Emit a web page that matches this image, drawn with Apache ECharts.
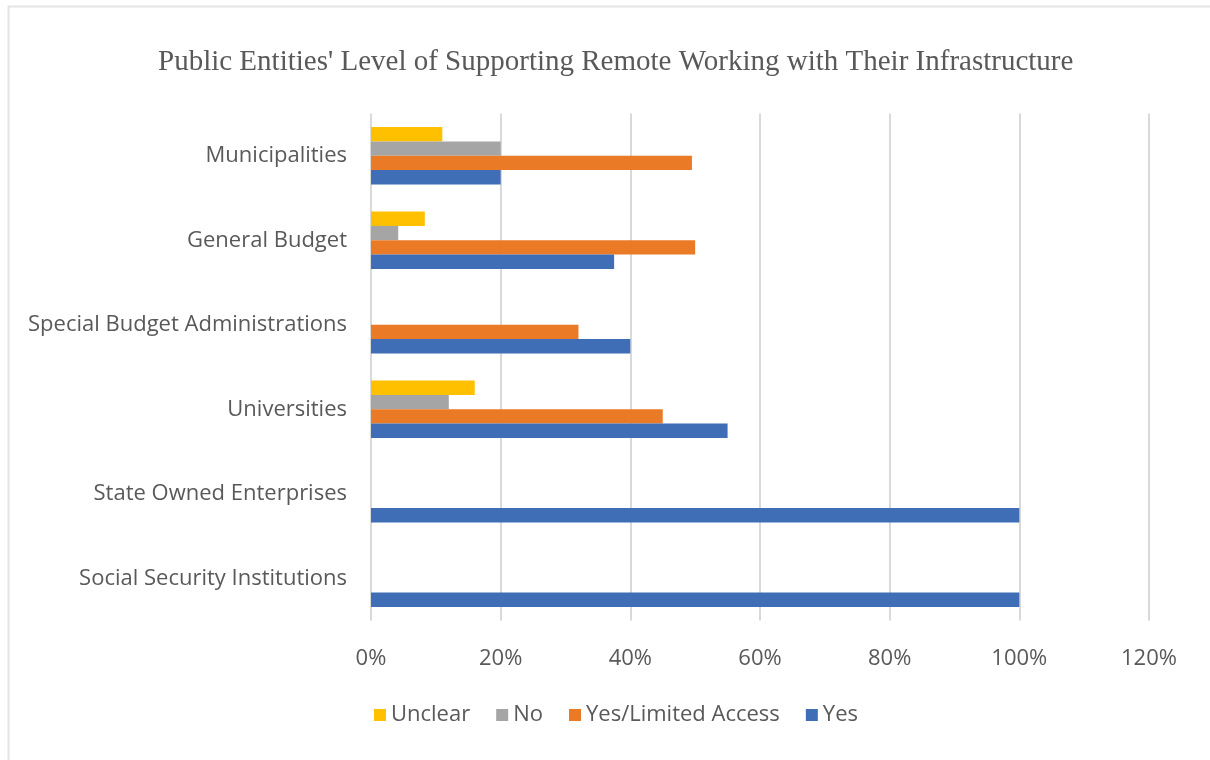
<!DOCTYPE html>
<html>
<head>
<meta charset="utf-8">
<style>
  html, body { margin: 0; padding: 0; background: #ffffff; }
  #chart { width: 1210px; height: 760px; }
</style>
<script src="https://cdn.jsdelivr.net/npm/echarts@6/dist/echarts.min.js"></script>
</head>
<body>
<div id="chart"></div>
<script>
// Entity groups, listed bottom-to-top along the category axis
const categories = [
  'Social Security Institutions',
  'State Owned Enterprises',
  'Universities',
  'Special Budget Administrations',
  'General Budget',
  'Municipalities'
];

// Share of entities per answer (%), same order as categories
const yesValues       = [100, 100, 55, 40, 37.5, 20];
const limitedValues   = [0, 0, 45, 32, 50, 49.5];
const noValues        = [0, 0, 12, 0, 4.2, 20];
const unclearValues   = [0, 0, 16, 0, 8.3, 11];

const xTicks = [0, 20, 40, 60, 80, 100, 120];

const labelFont = '"Open Sans", sans-serif';

const chart = echarts.init(document.getElementById('chart'), null, { renderer: 'canvas' });

function barSeries(name, values, color) {
  return {
    name: name,
    type: 'bar',
    data: values,
    barGap: '0%',
    barCategoryGap: '32%',
    itemStyle: { color: color },
    emphasis: { disabled: true }
  };
}

chart.setOption({
  animation: false,
  backgroundColor: '#ffffff',
  graphic: [{
    type: 'rect',
    shape: { x: 8.5, y: 6.5, width: 1300, height: 900 },
    style: { fill: 'none', stroke: '#e4e4e4', lineWidth: 2 },
    silent: true
  }],
  title: {
    text: "Public Entities' Level of Supporting Remote Working with Their Infrastructure",
    left: 153,
    top: 43,
    textStyle: {
      fontFamily: '"Liberation Serif", "DejaVu Serif", serif',
      fontWeight: 'normal',
      fontSize: 29,
      color: '#595959'
    }
  },
  legend: {
    data: ['Unclear', 'No', 'Yes/Limited Access', 'Yes'],
    left: 369,
    top: 699,
    itemWidth: 12,
    itemHeight: 12,
    itemGap: 26,
    icon: 'rect',
    textStyle: { fontFamily: labelFont, fontSize: 22, color: '#595959' }
  },
  grid: { left: 371, right: 61, top: 113.5, bottom: 139.5, containLabel: false },
  xAxis: {
    type: 'value',
    min: xTicks[0],
    max: xTicks[xTicks.length - 1],
    interval: 20,
    axisLine: { show: false },
    axisTick: { show: false },
    axisLabel: {
      formatter: '{value}%',
      margin: 27,
      fontFamily: labelFont,
      fontSize: 22,
      color: '#595959'
    },
    splitLine: { show: true, lineStyle: { color: '#d9d9d9', width: 2 } }
  },
  yAxis: {
    type: 'category',
    data: categories,
    axisLine: { show: false },
    axisTick: { show: false },
    axisLabel: {
      margin: 24,
      fontFamily: labelFont,
      fontSize: 22,
      color: '#595959'
    },
    splitLine: { show: false }
  },
  // first series sits at the top of each category band
  series: [
    barSeries('Unclear', unclearValues, '#ffc000'),
    barSeries('No', noValues, '#a5a5a5'),
    barSeries('Yes/Limited Access', limitedValues, '#eb7a27'),
    barSeries('Yes', yesValues, '#3f6db6')
  ]
});
</script>
</body>
</html>
